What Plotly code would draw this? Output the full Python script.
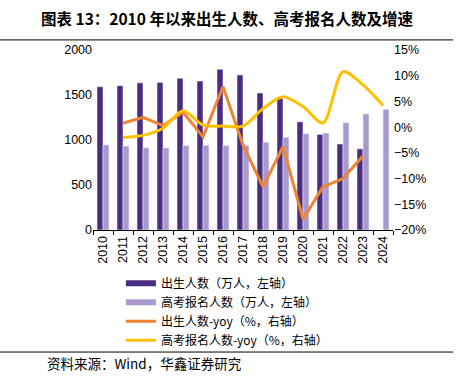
import plotly.graph_objects as go

years = [str(y) for y in range(2010, 2025)]
births = [1592, 1604, 1635, 1640, 1687, 1655, 1786, 1723, 1523, 1465, 1202, 1062, 956, 902, None]
gaokao = [946, 933, 915, 912, 939, 942, 940, 940, 975, 1031, 1071, 1078, 1193, 1291, 1342]
births_yoy = [None, 0.75, 1.9, 0.3, 2.9, -1.9, 7.9, -3.5, -11.6, -3.8, -17.9, -11.6, -10.0, -5.6, None]
gaokao_yoy = [None, -2.0, -1.6, -0.2, 3.2, 0.4, 0.2, 0.2, 3.6, 5.9, 4.0, 0.8, 10.8, 8.2, 4.2]

names = ["出生人数（万人，左轴）", "高考报名人数（万人，左轴）", "出生人数-yoy（%，右轴）", "高考报名人数-yoy（%，右轴）"]
c_dark = "#4A2C82"
c_light = "#A899CF"
c_orange = "#EE8433"
c_yellow = "#FFC000"

cjk = "Noto Sans CJK SC"
fig = go.Figure()
fig.add_trace(go.Bar(x=years, y=births, marker=dict(color=c_dark, line=dict(color="white", width=0.5)), showlegend=False))
fig.add_trace(go.Bar(x=years, y=gaokao, marker=dict(color=c_light, line=dict(color="white", width=0.5)), showlegend=False))
fig.add_trace(go.Scatter(x=years, y=births_yoy, yaxis="y2", mode="lines", line=dict(color=c_orange, width=3), showlegend=False))
fig.add_trace(go.Scatter(x=years, y=gaokao_yoy, yaxis="y2", mode="lines", line=dict(color=c_yellow, width=3, shape="spline", smoothing=0.8), showlegend=False))

# legend-only traces
for nm, col, w in [(names[0], c_dark, 6), (names[1], c_light, 6), (names[2], c_orange, 3), (names[3], c_yellow, 3)]:
    fig.add_trace(go.Scatter(x=[None], y=[None], mode="lines", name=nm, line=dict(color=col, width=w), showlegend=True))

fig.update_layout(
    width=458, height=378,
    margin=dict(l=93, r=65, t=50, b=148, autoexpand=False),
    plot_bgcolor="white", paper_bgcolor="white",
    barmode="group", bargap=0.4, bargroupgap=0.0,
    font=dict(family="Liberation Sans, Arial", size=12.5, color="black"),
    xaxis=dict(type="category", tickangle=-90, showline=True, linecolor="black", linewidth=1,
               ticks="outside", tickson="boundaries", ticklen=4, tickcolor="black",
               tickfont=dict(size=12.5), showgrid=False),
    yaxis=dict(range=[0, 2000], dtick=500, showgrid=False, showline=False, ticks="",
               tickfont=dict(size=12.5), zeroline=False),
    yaxis2=dict(range=[-20, 15], dtick=5, overlaying="y", side="right", ticksuffix="%",
                showgrid=False, showline=False, zeroline=False, tickfont=dict(size=12.5)),
    legend=dict(x=0.093, y=-0.215, xanchor="left", yanchor="top", font=dict(family=cjk, size=12),
                bgcolor="rgba(0,0,0,0)", tracegroupgap=0, itemwidth=30),
    showlegend=True,
)

fig.add_annotation(text="<b>图表 13：2010 年以来出生人数、高考报名人数及增速</b>", xref="paper", yref="paper",
                   x=0.445, y=1.178, xanchor="center", yanchor="middle", showarrow=False, font=dict(family=cjk, size=15.5))
fig.add_annotation(text="资料来源：Wind，华鑫证券研究", xref="paper", yref="paper",
                   x=-0.16, y=-0.739, xanchor="left", yanchor="middle", showarrow=False, font=dict(family=cjk, size=13.5))
fig.add_shape(type="line", xref="paper", yref="paper", x0=-0.31, x1=1.2, y0=1.056, y1=1.056, line=dict(color="black", width=1))
fig.add_shape(type="line", xref="paper", yref="paper", x0=-0.31, x1=1.2, y0=-0.678, y1=-0.678, line=dict(color="black", width=1))

fig.write_html("out.html", post_script="document.body.style.margin='0';", config={"displayModeBar": False})
